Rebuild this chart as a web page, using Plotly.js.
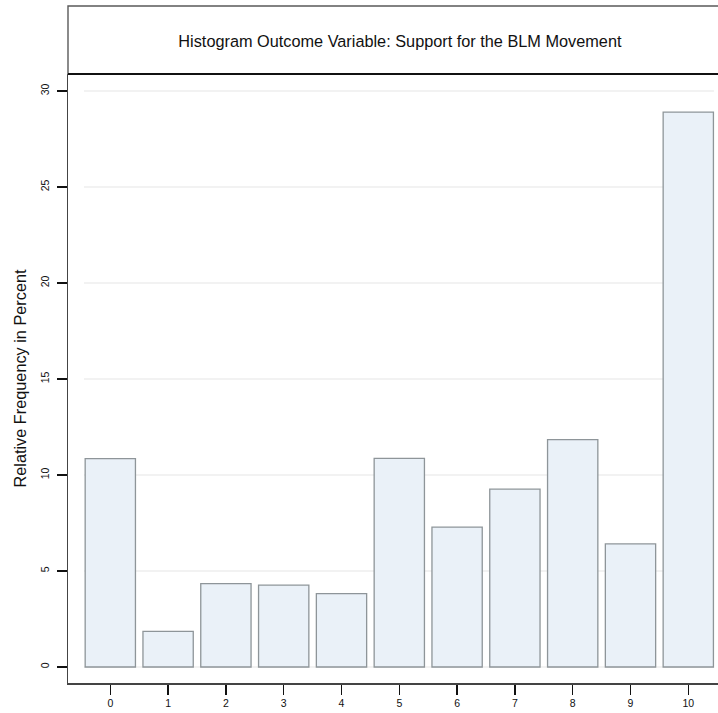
<!DOCTYPE html>
<html>
<head>
<meta charset="utf-8">
<script src="https://cdn.plot.ly/plotly-3.0.1.min.js"></script>
<style>
  html, body { margin: 0; padding: 0; background: #ffffff; }
  #chart { width: 718px; height: 713px; }
</style>
</head>
<body>
<div id="chart"></div>
<script>
// Support for the BLM movement, 0-10 scale, share of respondents (%)
const categories = [0, 1, 2, 3, 4, 5, 6, 7, 8, 9, 10];
const percentages = [10.85, 1.86, 4.34, 4.26, 3.82, 10.87, 7.29, 9.26, 11.84, 6.41, 28.9];
const yTickValues = [0, 5, 10, 15, 20, 25, 30];
const xTickValues = [0, 1, 2, 3, 4, 5, 6, 7, 8, 9, 10];

const fontFamily = '"Liberation Sans", Arial, Helvetica, sans-serif';

const bars = {
  type: 'bar',
  x: categories,
  y: percentages,
  width: 0.87,
  marker: {
    color: '#eaf1f8',
    line: { color: '#8e9599', width: 1.3 }
  },
  hoverinfo: 'x+y'
};

// light horizontal grid, inset slightly from the plot edges
const gridShapes = yTickValues.map(v => ({
  type: 'line',
  xref: 'paper', yref: 'y',
  x0: 0.0246, x1: 0.9938,
  y0: v, y1: v,
  line: { color: '#e6e6e6', width: 1.2 },
  layer: 'below'
}));

// title band above the plot region
const titleBox = [
  {
    type: 'rect', xref: 'paper', yref: 'paper',
    x0: 0, x1: 1.002, y0: 1, y1: 1.1117,
    line: { color: '#5a5a5a', width: 1.4 },
    fillcolor: 'rgba(0,0,0,0)'
  },
  {
    type: 'line', xref: 'paper', yref: 'paper',
    x0: 0, x1: 1.002, y0: 1, y1: 1,
    line: { color: '#111111', width: 2 }
  }
];

const layout = {
  width: 718,
  height: 713,
  margin: { l: 68, r: 0, t: 74, b: 30, pad: 0 },
  paper_bgcolor: '#ffffff',
  plot_bgcolor: '#ffffff',
  showlegend: false,
  font: { family: fontFamily, color: '#000000' },
  title: {
    text: 'Histogram Outcome Variable: Support for the BLM Movement',
    font: { family: fontFamily, size: 16.3, color: '#111111' },
    x: 0.557, xanchor: 'center',
    y: 0.942, yanchor: 'middle'
  },
  xaxis: {
    range: [-0.732, 10.514],
    tickmode: 'array',
    tickvals: xTickValues,
    ticktext: xTickValues.map(String),
    ticks: 'outside',
    ticklen: 10,
    tickwidth: 1.4,
    tickcolor: '#111111',
    tickfont: { family: fontFamily, size: 10.5, color: '#111111' },
    showgrid: false,
    zeroline: false,
    showline: true,
    linecolor: '#444444',
    linewidth: 1.5,
    fixedrange: true
  },
  yaxis: {
    range: [-0.833, 30.885],
    tickmode: 'array',
    tickvals: yTickValues,
    ticktext: yTickValues.map(String),
    tickangle: -90,
    ticks: 'outside',
    ticklen: 10,
    tickwidth: 1.4,
    tickcolor: '#111111',
    ticklabelstandoff: 3,
    tickfont: { family: fontFamily, size: 10.5, color: '#111111' },
    showgrid: false,
    zeroline: false,
    showline: true,
    linecolor: '#444444',
    linewidth: 1.5,
    title: {
      text: 'Relative Frequency in Percent',
      font: { family: fontFamily, size: 16.3, color: '#111111' },
      standoff: 8
    },
    fixedrange: true
  },
  shapes: gridShapes.concat(titleBox),
  bargap: 0.13
};

Plotly.newPlot('chart', [bars], layout, { displayModeBar: false, staticPlot: true });
</script>
</body>
</html>
